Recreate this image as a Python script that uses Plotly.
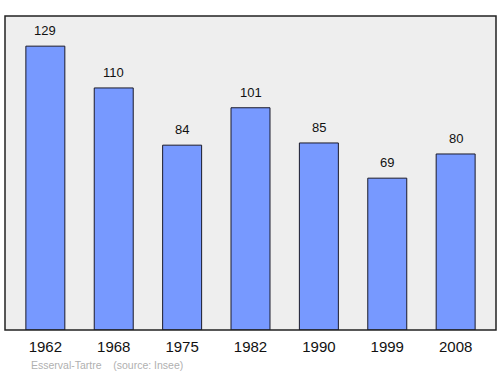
import plotly.graph_objects as go

years = ["1962", "1968", "1975", "1982", "1990", "1999", "2008"]
population = [129, 110, 84, 101, 85, 69, 80]
footer_text = "Esserval-Tartre    (source: Insee)"

FONT = "Liberation Sans, Arial, sans-serif"

fig = go.Figure()
fig.add_trace(go.Bar(
    x=years, y=population,
    width=0.57,
    marker=dict(color="#7799ff", line=dict(color="#1a1a2a", width=1)),
    hoverinfo="skip",
))

for i, v in enumerate(population):
    fig.add_annotation(x=i, y=v, text=str(v), showarrow=False,
                       yanchor="bottom", yshift=6,
                       font=dict(family=FONT, size=13, color="#111"))

fig.add_annotation(xref="paper", yref="paper", x=0.049, y=-0.111,
                   xanchor="left", yanchor="middle", showarrow=False,
                   text=footer_text,
                   font=dict(family=FONT, size=10.5, color="#b0b0b0"))

fig.add_shape(type="rect", xref="paper", yref="paper", x0=0, y0=0, x1=1, y1=1,
              line=dict(color="#222", width=1.5), layer="above")

fig.update_layout(
    width=500, height=374,
    margin=dict(l=5, r=4, t=16, b=44),
    paper_bgcolor="white", plot_bgcolor="#eeeeee",
    showlegend=False,
    xaxis=dict(type="category", range=[-0.59, 6.59], showgrid=False, zeroline=False,
               tickfont=dict(family=FONT, size=15, color="#111"),
               ticks="", ticklabelstandoff=6),
    yaxis=dict(range=[0, 142.7], showgrid=False, zeroline=False,
               showticklabels=False, ticks=""),
)

fig.write_html("out.html")
